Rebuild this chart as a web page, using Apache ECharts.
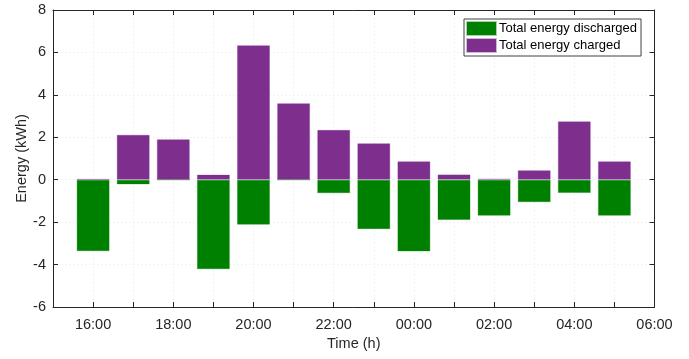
<!DOCTYPE html>
<html>
<head>
<meta charset="utf-8">
<script src="https://cdn.jsdelivr.net/npm/echarts@6/dist/echarts.min.js"></script>
<style>
html,body{margin:0;padding:0;background:#fff;}
#chart{width:689px;height:359px;}
</style>
</head>
<body>
<div id="chart"></div>
<script>
// Hours (16 = 16:00 on day 1, 24 = 00:00, 29 = 05:00 next day)
const hours = [16, 17, 18, 19, 20, 21, 22, 23, 24, 25, 26, 27, 28, 29];
const energyCharged = [0.03, 2.12, 1.91, 0.24, 6.34, 3.61, 2.35, 1.72, 0.87, 0.25, 0.04, 0.45, 2.75, 0.87];
const energyDischarged = [-3.37, -0.22, 0, -4.22, -2.12, 0, -0.64, -2.33, -3.38, -1.90, -1.70, -1.06, -0.63, -1.70];
const seriesNames = ['Total energy discharged', 'Total energy charged'];
const xTickLabels = ['16:00', '18:00', '20:00', '22:00', '00:00', '02:00', '04:00', '06:00'];
const yTicks = [-6, -4, -2, 0, 2, 4, 6, 8];

const textColor = '#262626';
const font = 'Liberation Sans, Arial, sans-serif';
const chart = echarts.init(document.getElementById('chart'));

function xLabel(v) {
  if (v % 2 !== 0) return '';
  const idx = (v - 16) / 2;
  return xTickLabels[idx] !== undefined ? xTickLabels[idx] : '';
}

const gridLine = { show: true, lineStyle: { color: '#f3f3f3', type: [2, 2], width: 1 } };

chart.setOption({
  animation: false,
  backgroundColor: '#fff',
  grid: { left: 53, top: 10, right: 34.5, bottom: 52, containLabel: false },
  legend: {
    orient: 'vertical',
    left: 464, top: 19,
    data: seriesNames,
    icon: 'rect',
    itemWidth: 29, itemHeight: 13, itemGap: 2,
    padding: [2, 4, 3, 2],
    backgroundColor: '#fff',
    borderColor: '#404040', borderWidth: 1,
    textStyle: { fontFamily: font, fontSize: 13, color: '#000', padding: [0, 0, 0, -2] }
  },
  xAxis: [{
    type: 'value', min: 15, max: 30, interval: 1, position: 'bottom',
    name: 'Time (h)', nameLocation: 'middle', nameGap: 29, nameMoveOverlap: false,
    nameTextStyle: { fontFamily: font, fontSize: 14.5, color: textColor },
    axisLine: { show: true, onZero: false, lineStyle: { color: textColor, width: 1 } },
    axisTick: { show: true, inside: true, length: 5, lineStyle: { color: textColor } },
    axisLabel: { formatter: xLabel, fontFamily: font, fontSize: 14.5, color: textColor, margin: 10, showMinLabel: true, showMaxLabel: true },
    splitLine: gridLine
  }, {
    type: 'value', min: 15, max: 30, interval: 1, position: 'top',
    axisLine: { show: true, onZero: false, lineStyle: { color: textColor, width: 1 } },
    axisTick: { show: true, inside: true, length: 5, lineStyle: { color: textColor } },
    axisLabel: { show: false }, splitLine: { show: false }
  }],
  yAxis: [{
    type: 'value', min: -6, max: 8, interval: 2, position: 'left',
    name: 'Energy (kWh)', nameLocation: 'middle', nameGap: 24, nameRotate: 90, nameMoveOverlap: false,
    nameTextStyle: { fontFamily: font, fontSize: 14.5, color: textColor },
    axisLine: { show: true, onZero: false, lineStyle: { color: textColor, width: 1 } },
    axisTick: { show: true, inside: true, length: 5, lineStyle: { color: textColor } },
    axisLabel: { fontFamily: font, fontSize: 14.5, color: textColor, margin: 7,
      formatter: v => yTicks.indexOf(v) >= 0 ? String(v) : '' },
    splitLine: gridLine
  }, {
    type: 'value', min: -6, max: 8, interval: 2, position: 'right',
    axisLine: { show: true, onZero: false, lineStyle: { color: textColor, width: 1 } },
    axisTick: { show: true, inside: true, length: 5, lineStyle: { color: textColor } },
    axisLabel: { show: false }, splitLine: { show: false }
  }],
  series: [{
    name: seriesNames[0], type: 'bar', xAxisIndex: 0, yAxisIndex: 0,
    barWidth: 33, barGap: '-100%',
    itemStyle: { color: '#008000', borderColor: 'rgba(0,128,0,0.35)', borderWidth: 1 },
    data: hours.map((h, i) => [h, energyDischarged[i]])
  }, {
    name: seriesNames[1], type: 'bar', xAxisIndex: 0, yAxisIndex: 0,
    barWidth: 33, barGap: '-100%',
    itemStyle: { color: '#7E2F8E', borderColor: 'rgba(126,47,142,0.35)', borderWidth: 1 },
    data: hours.map((h, i) => [h, energyCharged[i]])
  }]
});
</script>
</body>
</html>
